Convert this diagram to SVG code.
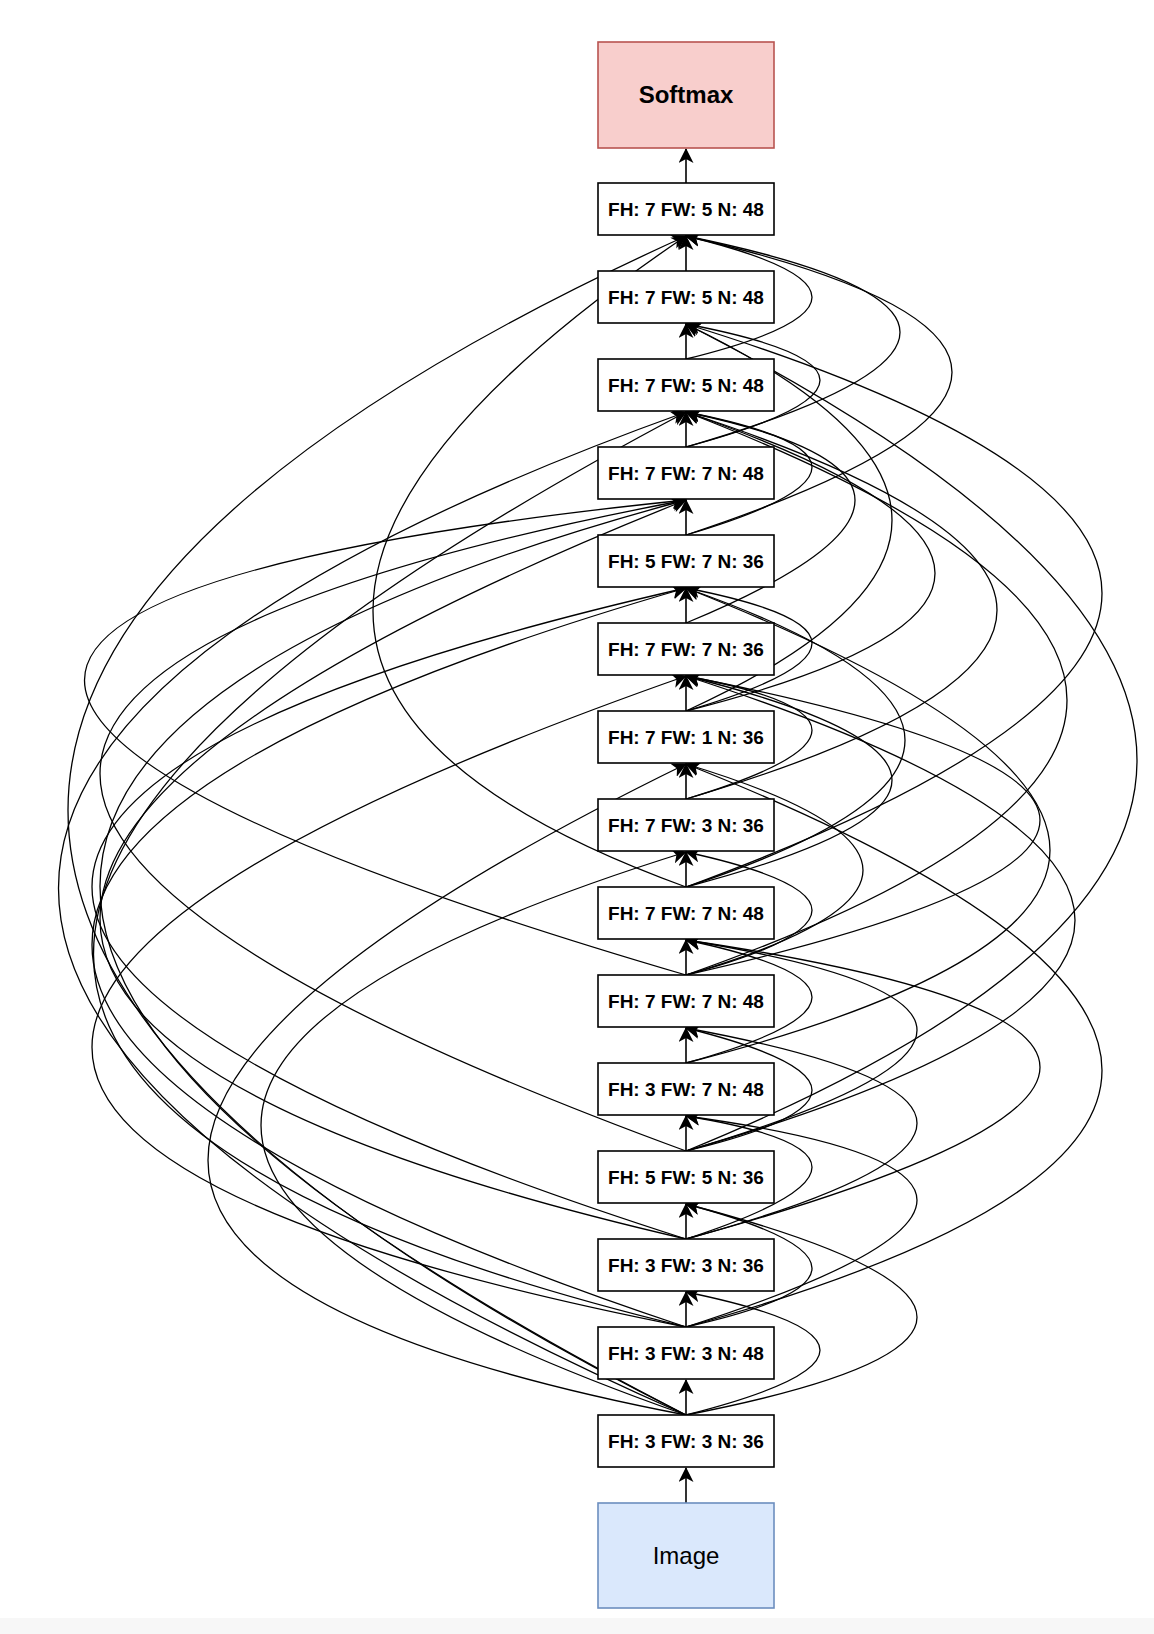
<svg xmlns="http://www.w3.org/2000/svg" width="1154" height="1634" viewBox="0 0 1154 1634">
<defs>
<marker id="arr" viewBox="0 0 15 15" refX="14" refY="7.5" markerWidth="15" markerHeight="15" markerUnits="userSpaceOnUse" orient="auto">
<path d="M0,0 L15,7.5 L0,15 L4,7.5 z" fill="#000"/>
</marker>
<style>
.n rect{fill:#fff;stroke:#000;stroke-width:1.6}
.n text{font-family:"Liberation Sans",Arial,sans-serif;font-weight:bold;font-size:19px;text-anchor:middle}
.e path{fill:none;stroke:#000;stroke-width:1.3;marker-end:url(#arr)}
.e path.s{stroke-width:1.6}
</style>
</defs>
<rect x="0" y="0" width="1154" height="1634" fill="#fff"/>
<rect x="0" y="1618" width="1154" height="16" fill="#f7f7f7"/>
<g id="connectors" class="e">
<path class="s" d="M686,183 L686,149"/>
<path class="s" d="M686,271 L686,236"/>
<path class="s" d="M686,359 L686,324"/>
<path class="s" d="M686,447 L686,412"/>
<path class="s" d="M686,535 L686,500"/>
<path class="s" d="M686,623 L686,588"/>
<path class="s" d="M686,711 L686,676"/>
<path class="s" d="M686,799 L686,764"/>
<path class="s" d="M686,887 L686,852"/>
<path class="s" d="M686,975 L686,940"/>
<path class="s" d="M686,1063 L686,1028"/>
<path class="s" d="M686,1151 L686,1116"/>
<path class="s" d="M686,1239 L686,1204"/>
<path class="s" d="M686,1327 L686,1292"/>
<path class="s" d="M686,1415 L686,1380"/>
<path class="s" d="M686,1503 L686,1468"/>
<path d="M686,359 Q938,297 686,236"/>
<path d="M686,447 Q1114,323 686,236"/>
<path d="M686,535 Q1218,359 686,236"/>
<path d="M686,447 Q954,375 686,324"/>
<path d="M686,535 Q938,461 686,412"/>
<path d="M686,711 Q938,637 686,588"/>
<path d="M686,799 Q938,723 686,676"/>
<path d="M686,975 Q938,907 686,852"/>
<path d="M686,1063 Q938,993 686,940"/>
<path d="M686,1151 Q938,1091 686,1028"/>
<path d="M686,975 Q1040,871 686,764"/>
<path d="M686,887 Q1098,779 686,676"/>
<path d="M686,1151 Q1148,1015 686,940"/>
<path d="M686,1239 Q1148,1113 686,1028"/>
<path d="M686,1239 Q938,1157 686,1116"/>
<path d="M686,1327 Q938,1271 686,1204"/>
<path d="M686,1415 Q954,1347 686,1292"/>
<path d="M686,1327 Q1148,1179 686,1116"/>
<path d="M686,1415 Q1148,1325 686,1204"/>
<path d="M686,623 Q1024,483 686,412"/>
<path d="M686,711 Q1098,523 686,324"/>
<path d="M686,711 Q1184,585 686,412"/>
<path d="M686,799 Q1308,615 686,412"/>
<path d="M686,887 Q1518,581 686,324"/>
<path d="M686,975 Q1448,707 686,412"/>
<path d="M686,1151 Q1588,783 686,324"/>
<path d="M686,887 Q1124,743 686,588"/>
<path d="M686,975 Q1394,815 686,676"/>
<path d="M686,1063 Q1414,875 686,588"/>
<path d="M686,1151 Q1464,927 686,676"/>
<path d="M686,1239 Q1394,1045 686,940"/>
<path d="M686,1327 Q1518,1095 686,764"/>
<path d="M686,887 Q60,660 686,236"/>
<path d="M686,1415 Q-550,795 686,236"/>
<path d="M686,975 Q-517,623 686,500"/>
<path d="M686,1415 Q-569,863 686,412"/>
<path d="M686,1327 Q-499,1039 686,412"/>
<path d="M686,1415 Q-486,815 686,500"/>
<path d="M686,1239 Q-486,968 686,500"/>
<path d="M686,1151 Q-486,722 686,500"/>
<path d="M686,1239 Q-502,860 686,588"/>
<path d="M686,1327 Q-502,932 686,588"/>
<path d="M686,1327 Q-502,1093 686,676"/>
<path d="M686,1415 Q-270,1231 686,764"/>
<path d="M686,1415 Q-164,1117 686,852"/>
</g>
<g id="softmax"><rect x="598" y="42" width="176" height="106" fill="#f8cecc" stroke="#b85450" stroke-width="1.6"/><text x="686" y="103" font-family="Liberation Sans,Arial,sans-serif" font-weight="bold" font-size="24" text-anchor="middle">Softmax</text></g>
<g id="l1" class="n"><rect x="598" y="183" width="176" height="52"/><text x="686" y="216">FH: 7 FW: 5 N: 48</text></g>
<g id="l2" class="n"><rect x="598" y="271" width="176" height="52"/><text x="686" y="304">FH: 7 FW: 5 N: 48</text></g>
<g id="l3" class="n"><rect x="598" y="359" width="176" height="52"/><text x="686" y="392">FH: 7 FW: 5 N: 48</text></g>
<g id="l4" class="n"><rect x="598" y="447" width="176" height="52"/><text x="686" y="480">FH: 7 FW: 7 N: 48</text></g>
<g id="l5" class="n"><rect x="598" y="535" width="176" height="52"/><text x="686" y="568">FH: 5 FW: 7 N: 36</text></g>
<g id="l6" class="n"><rect x="598" y="623" width="176" height="52"/><text x="686" y="656">FH: 7 FW: 7 N: 36</text></g>
<g id="l7" class="n"><rect x="598" y="711" width="176" height="52"/><text x="686" y="744">FH: 7 FW: 1 N: 36</text></g>
<g id="l8" class="n"><rect x="598" y="799" width="176" height="52"/><text x="686" y="832">FH: 7 FW: 3 N: 36</text></g>
<g id="l9" class="n"><rect x="598" y="887" width="176" height="52"/><text x="686" y="920">FH: 7 FW: 7 N: 48</text></g>
<g id="l10" class="n"><rect x="598" y="975" width="176" height="52"/><text x="686" y="1008">FH: 7 FW: 7 N: 48</text></g>
<g id="l11" class="n"><rect x="598" y="1063" width="176" height="52"/><text x="686" y="1096">FH: 3 FW: 7 N: 48</text></g>
<g id="l12" class="n"><rect x="598" y="1151" width="176" height="52"/><text x="686" y="1184">FH: 5 FW: 5 N: 36</text></g>
<g id="l13" class="n"><rect x="598" y="1239" width="176" height="52"/><text x="686" y="1272">FH: 3 FW: 3 N: 36</text></g>
<g id="l14" class="n"><rect x="598" y="1327" width="176" height="52"/><text x="686" y="1360">FH: 3 FW: 3 N: 48</text></g>
<g id="l15" class="n"><rect x="598" y="1415" width="176" height="52"/><text x="686" y="1448">FH: 3 FW: 3 N: 36</text></g>
<g id="image"><rect x="598" y="1503" width="176" height="105" fill="#dae8fc" stroke="#6c8ebf" stroke-width="1.6"/><text x="686" y="1564" font-family="Liberation Sans,Arial,sans-serif" font-size="24" text-anchor="middle">Image</text></g>
</svg>
